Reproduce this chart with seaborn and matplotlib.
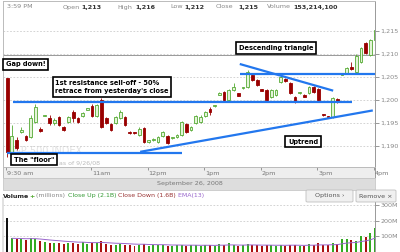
import numpy as np
import pandas as pd
import seaborn as sns
import matplotlib.pyplot as plt
from matplotlib.patches import Rectangle, FancyBboxPatch

# S&P 500, 5-minute bars, Sept 26 2008 (9:30 am .. 4:00 pm)
opens = [1204.8, 1188.7, 1191.3, 1193.0, 1192.2, 1192.0, 1195.2, 1193.7, 1196.5, 1196.1,
         1195.0, 1196.3, 1194.1, 1195.2, 1197.4, 1196.1, 1196.5, 1197.9, 1198.7, 1196.5,
         1200.0, 1196.1, 1194.8, 1195.0, 1196.1, 1196.3, 1193.0, 1192.9, 1192.4, 1193.9,
         1190.9, 1191.2, 1190.9, 1192.2, 1192.2, 1191.6, 1192.0, 1192.4, 1194.8, 1193.5,
         1195.0, 1195.2, 1196.5, 1198.0, 1198.6, 1201.1, 1201.7, 1200.0, 1202.2, 1201.5,
         1202.5, 1202.8, 1205.4, 1204.3, 1202.2, 1202.2, 1200.7, 1201.1, 1203.9, 1204.6,
         1203.7, 1200.7, 1201.4, 1201.1, 1201.5, 1202.8, 1202.4, 1196.8, 1196.4, 1196.3,
         1200.2, 1205.4, 1205.9, 1207.2, 1206.1, 1208.3, 1212.4, 1209.8, 1213.0]
highs = [1204.8, 1194.6, 1192.0, 1194.0, 1192.4, 1196.6, 1199.0, 1194.0, 1196.8, 1196.6,
         1196.1, 1196.5, 1194.3, 1196.5, 1197.8, 1196.3, 1197.4, 1198.2, 1199.0, 1199.2,
         1200.5, 1196.3, 1195.0, 1196.5, 1197.8, 1196.5, 1193.2, 1193.0, 1194.1, 1194.2,
         1191.3, 1191.6, 1192.2, 1193.3, 1192.4, 1192.0, 1192.6, 1195.5, 1195.0, 1194.3,
         1196.7, 1196.6, 1197.6, 1198.5, 1198.9, 1201.7, 1202.0, 1202.4, 1203.7, 1201.6,
         1202.8, 1206.5, 1205.6, 1204.5, 1202.3, 1202.4, 1202.4, 1202.3, 1205.3, 1204.8,
         1203.9, 1200.9, 1201.7, 1201.2, 1203.0, 1203.0, 1202.6, 1197.0, 1196.5, 1200.6,
         1200.5, 1205.8, 1207.2, 1208.3, 1209.9, 1211.6, 1212.6, 1213.3, 1215.8]
lows = [1187.5, 1188.5, 1189.2, 1192.8, 1191.1, 1191.8, 1195.0, 1193.0, 1196.4, 1194.6,
        1194.6, 1194.4, 1193.3, 1195.0, 1195.2, 1195.0, 1196.3, 1197.8, 1196.3, 1196.3,
        1193.9, 1194.8, 1193.3, 1194.8, 1195.9, 1194.4, 1192.6, 1192.5, 1192.2, 1190.7,
        1190.6, 1191.0, 1190.7, 1192.0, 1190.5, 1191.5, 1191.8, 1192.2, 1192.8, 1193.3,
        1194.8, 1195.0, 1196.3, 1196.7, 1198.5, 1201.0, 1199.8, 1199.8, 1202.0, 1200.8,
        1202.4, 1202.6, 1204.0, 1203.0, 1201.9, 1199.8, 1200.5, 1200.9, 1203.7, 1203.8,
        1201.3, 1199.4, 1201.3, 1200.6, 1201.3, 1201.5, 1199.8, 1196.5, 1196.0, 1196.1,
        1199.4, 1205.3, 1205.6, 1206.5, 1205.8, 1208.0, 1210.0, 1209.6, 1212.4]
closes = [1188.7, 1192.2, 1189.6, 1193.4, 1191.3, 1196.1, 1198.5, 1193.3, 1196.7, 1195.0,
          1195.6, 1194.6, 1193.5, 1196.3, 1196.1, 1195.2, 1197.2, 1198.1, 1196.5, 1198.9,
          1194.1, 1195.0, 1193.5, 1196.3, 1197.4, 1194.6, 1192.8, 1192.7, 1193.7, 1190.9,
          1191.2, 1191.4, 1192.0, 1193.0, 1190.7, 1191.8, 1192.4, 1195.2, 1193.0, 1194.1,
          1196.5, 1196.3, 1197.4, 1197.4, 1198.8, 1201.5, 1200.0, 1202.2, 1202.8, 1200.9,
          1202.7, 1206.1, 1204.3, 1203.3, 1202.0, 1200.0, 1202.2, 1202.2, 1205.0, 1204.0,
          1201.5, 1199.6, 1201.6, 1200.7, 1202.8, 1201.7, 1200.0, 1196.6, 1196.2, 1200.4,
          1199.6, 1205.7, 1207.0, 1206.7, 1209.6, 1211.3, 1210.2, 1213.0, 1215.2]
volumes = [220, 88, 85, 82, 78, 90, 85, 70, 62, 60,
           58, 60, 52, 55, 55, 50, 62, 50, 55, 60,
           70, 50, 48, 45, 50, 48, 42, 40, 45, 50,
           38, 45, 42, 48, 40, 38, 45, 42, 40, 45,
           42, 40, 45, 42, 38, 52, 45, 55, 45, 40,
           42, 52, 45, 42, 40, 45, 42, 40, 45, 40,
           48, 45, 40, 38, 50, 45, 55, 48, 45, 55,
           50, 85, 85, 75, 70, 105, 95, 120, 155]  # millions

hour_ticks = [9.5, 11, 12, 13, 14, 15, 16]
hour_labels = ["9:30 am", "11am", "12pm", "1pm", "2pm", "3pm", "4pm"]
price_ticks = [1190, 1195, 1200, 1205, 1210, 1215]
vol_ticks = [100, 200, 300]
prev_close = 1209.8

# hand-drawn trend lines (time in hours, price)
resistance_t, resistance_p = [9.62, 15.61], [1199.5, 1199.5]
floor_t, floor_p = [9.52, 12.61], [1188.5, 1188.5]
top_t, top_p = [13.63, 16.02], [1205.65, 1205.65]
desc_t, desc_p = [13.63, 15.28], [1207.8, 1202.0]
uptrend_t, uptrend_p = [11.87, 15.98], [1188.7, 1197.7]

GREEN = "#55aa33"
PALE = "#e4f4d8"
RED = "#990000"
BLUE = "#2277ee"
PURPLE = "#9966cc"
GREY = "#888888"

sns.set_theme(style="white")
plt.rcParams["font.family"] = ["DejaVu Sans"]

W, H = 400, 252
fig = plt.figure(figsize=(W / 100, H / 100), dpi=100)


def rect(x0, y0, x1, y1):
    return [x0 / W, 1 - y1 / H, (x1 - x0) / W, (y1 - y0) / H]


ax = fig.add_axes(rect(3, 1, 375, 167))
axt = fig.add_axes(rect(3, 167, 375, 178), sharex=ax)
axv = fig.add_axes(rect(3, 198, 375, 252), sharex=ax)

df = pd.DataFrame({"o": opens, "h": highs, "l": lows, "c": closes, "v": volumes})
df["t"] = 9.5 + np.arange(len(df)) / 12 + 0.02
up = df.c >= df.o
wd = 0.58 / 12

# candles
ax.vlines(df.t, df.l, df.h, colors=np.where(up, GREEN, RED), lw=0.6, zorder=2)
body = np.maximum((df.c - df.o).abs(), 0.3)
ax.bar(df.t[up], body[up], bottom=df.o[up], width=wd, color=PALE,
       edgecolor=GREEN, lw=0.6, zorder=3)
ax.bar(df.t[~up], body[~up], bottom=df.c[~up], width=wd, color=RED,
       edgecolor=RED, lw=0.6, zorder=3)

# trend lines
for tt, pp in [(resistance_t, resistance_p), (floor_t, floor_p), (top_t, top_p),
               (desc_t, desc_p), (uptrend_t, uptrend_p)]:
    ax.plot(tt, pp, color=BLUE, lw=1.6, solid_capstyle="butt", zorder=4)

ax.axhline(prev_close, color="#999999", lw=0.7, zorder=1)
ax.set_xlim(9.447, 16.019)
ax.set_ylim(1185.4, 1221.5)
ax.set_yticks(price_ticks)
ax.set_yticklabels([f"{p:,}" for p in price_ticks])
ax.yaxis.tick_right()
ax.grid(axis="y", ls=(0, (2, 2)), color="#cccccc", lw=0.6)
ax.tick_params(axis="y", right=True, length=3, width=0.6, color=GREY, labelsize=4.6,
               labelcolor=GREY, pad=1)
ax.tick_params(axis="x", bottom=False, labelbottom=False)
for s, sp in ax.spines.items():
    sp.set_color("#bbbbbb")
    sp.set_linewidth(0.7)
ax.spines["right"].set_color("#999999")
ax.spines["bottom"].set_visible(False)

# watermark
ax.text(9.51, 1188.9, "S&P 500 INDEX", fontsize=7, color="#e2e2e2", va="center", zorder=0)
ax.text(10.43, 1186.3, "as of 9/26/08", fontsize=4.5, color="#bbbbbb", va="center", zorder=0)


def note(t, p, s, ha="center"):
    ax.text(t, p, s, ha=ha, va="center", fontsize=4.8, fontweight="bold", color="black",
            linespacing=1.35, zorder=6,
            bbox=dict(boxstyle="square,pad=0.4", fc="white", ec="black", lw=1.2))


note(9.85, 1207.7, "Gap down!")
note(10.37, 1202.8, "1st resistance sell-off - 50%\nretrace from yesterday's close", ha="left")
note(9.99, 1187.0, 'The "floor"')
note(14.27, 1211.3, "Descending triangle")
note(14.75, 1190.9, "Uptrend")

# header line
hdr = [(7, "3:59 PM", None), (63, "Open", "1,213"), (117, "High", "1,216"),
       (170, "Low", "1,212"), (216, "Close", "1,215"), (267, "Volume", "153,214,100")]
for x, lab, val in hdr:
    fig.text(x / W, 1 - 7 / H, lab, fontsize=4.6, color=GREY, va="center")
    if val:
        fig.text((x + 4.3 * len(lab) + 1) / W, 1 - 7 / H, val, fontsize=4.6,
                 color="#333333", fontweight="bold", va="center")

# time band
axt.set_facecolor("#eeeeee")
axt.set_yticks([])
axt.set_xticks(hour_ticks)
axt.tick_params(axis="x", bottom=False, labelbottom=False, top=True, direction="in",
                length=2, width=0.6, color=GREY)
for tk, lab in zip(hour_ticks, hour_labels):
    axt.text(tk + 0.02, 0.45, lab, transform=axt.get_xaxis_transform(), fontsize=4.6,
             color="#777777", va="center", ha="left")
for sp in axt.spines.values():
    sp.set_color("#bbbbbb")
    sp.set_linewidth(0.7)
axt.spines["right"].set_color("#999999")

# date band
fig.patches.append(Rectangle((3 / W, 1 - 190 / H), 372 / W, 12 / H, transform=fig.transFigure,
                             fc="#dddddd", ec="#c8c8c8", lw=0.6))
fig.text(190 / W, 1 - 184 / H, "September 26, 2008", fontsize=4.6, color="#777777",
         ha="center", va="center")

# volume header
vx = 3
for s, col, wt in [("Volume", "#222222", "bold"), ("+", GREEN, "bold"),
                   (" (millions)", GREY, "normal"), (" Close Up (2.1B)", "#339933", "normal"),
                   (" Close Down (1.6B)", "#993333", "normal"), (" EMA(13)", PURPLE, "normal")]:
    txt = fig.text(vx / W, 1 - 196 / H, s, fontsize=4.5, color=col, fontweight=wt, va="center")
    fig.canvas.draw()
    vx += txt.get_window_extent().width

for x0, x1, lab in [(306, 353, "Options \u203a"), (356, 396, "Remove \u00d7")]:
    fig.patches.append(FancyBboxPatch((x0 / W, 1 - 202 / H), (x1 - x0) / W, 12 / H,
                                      boxstyle="round,pad=0,rounding_size=0.004",
                                      transform=fig.transFigure, fc="#f0f0f0",
                                      ec="#c0c0c0", lw=0.6))
    fig.text((x0 + x1) / 2 / W, 1 - 196 / H, lab, fontsize=4.6, color="#555555",
             ha="center", va="center")

# volume bars
vcol = np.where(up, "#33aa22", "#aa1111")
vcol[0] = "#111111"
axv.bar(df.t, df.v, width=0.42 / 12, color=vcol, lw=0, zorder=2)
ema = df.v.iloc[1:].ewm(span=13, adjust=False).mean()
sns.lineplot(x=df.t.iloc[1:], y=ema, ax=axv, color=PURPLE, lw=0.7, zorder=3)
axv.set_ylim(0, 348)
axv.set_yticks(vol_ticks)
axv.set_yticklabels([f"{v}M" for v in vol_ticks])
axv.yaxis.tick_right()
axv.grid(axis="y", ls=(0, (2, 2)), color="#cccccc", lw=0.6)
axv.tick_params(axis="y", right=True, length=3, width=0.6, color=GREY, labelsize=4.6,
                labelcolor=GREY, pad=1)
axv.tick_params(axis="x", bottom=False, labelbottom=False)
axv.set_xlabel("")
axv.set_ylabel("")
for sp in axv.spines.values():
    sp.set_visible(False)
axv.spines["right"].set_visible(True)
axv.spines["right"].set_color("#999999")
axv.spines["right"].set_linewidth(0.7)
axv.spines["left"].set_visible(True)
axv.spines["left"].set_color("#dddddd")

fig.savefig("out.png", dpi=100)
